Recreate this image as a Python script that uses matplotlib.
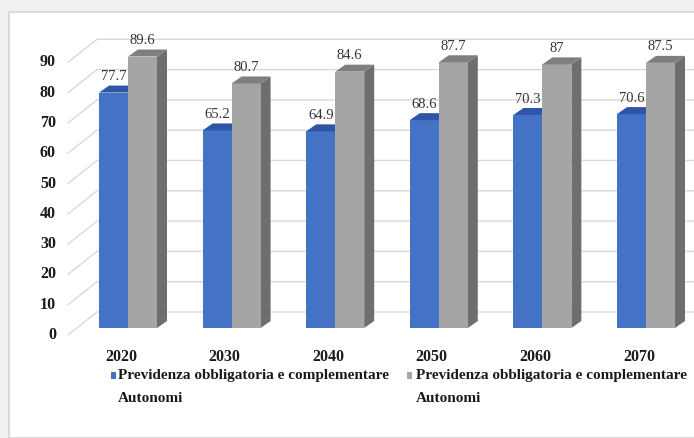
import numpy as np
import matplotlib.pyplot as plt
from matplotlib.patches import Polygon, Rectangle

# data
years = ["2020", "2030", "2040", "2050", "2060", "2070"]
obbl_compl = [77.7, 65.2, 64.9, 68.6, 70.3, 70.6]
autonomi = [89.6, 80.7, 84.6, 87.7, 87.0, 87.5]
labels_obbl = ["77.7", "65.2", "64.9", "68.6", "70.3", "70.6"]
labels_auto = ["89.6", "80.7", "84.6", "87.7", "87", "87.5"]
y_ticks = [0, 10, 20, 30, 40, 50, 60, 70, 80, 90]
legend_labels = ["Previdenza obbligatoria e complementare\nAutonomi",
                 "Previdenza obbligatoria e complementare\nAutonomi"]

plt.rcParams['font.family'] = ['Liberation Serif', 'DejaVu Serif']

W, H = 694, 438
fig = plt.figure(figsize=(W / 100, H / 100), dpi=100)
fig.patch.set_facecolor('#f0f0f0')

# white panel (clipped at right and bottom)
fig.patches.append(Rectangle((9 / W, 0), 1, 1 - 12 / H, transform=fig.transFigure,
                             facecolor='white', edgecolor='#d4d4d4', lw=1.2, zorder=-1))

# axes placed in pixel terms
L, R, T, B = 55, 694, 20, 345
ax = fig.add_axes([L / W, (H - B) / H, (R - L) / W, (B - T) / H])
ax.set_facecolor('none')
ax.axis('off')

px_x = 103.6   # px per category
px_y = 3.03    # px per unit
x0_px, y0_px = 128, 328
ax.set_xlim((L - x0_px) / px_x, (R - x0_px) / px_x)
ax.set_ylim((y0_px - B) / px_y, (y0_px - T) / px_y)

x = np.arange(len(years))
bw = 29 / px_x
ddx, ddy = 10 / px_x, 7 / px_y          # bar depth
wall_dy = 16 / px_y                     # back wall shift
front_dy = -7 / px_y                    # side-wall front edge shift
wall_x0, wall_x1 = (68 - x0_px) / px_x, (97 - x0_px) / px_x
xmax = (R - x0_px) / px_x

# gridlines on side and back walls
for v in y_ticks:
    ax.plot([wall_x0, wall_x1, xmax], [v + front_dy, v + wall_dy, v + wall_dy],
            color='#d9d9d9', lw=1.0, zorder=1)
    ax.text((56 - x0_px) / px_x, v + front_dy, str(v), ha='right', va='center',
            fontsize=11.5, fontweight='bold', color='#1a1a1a')

blue_front, blue_top, blue_side = '#4472c4', '#2f56a6', '#2a4d94'
gray_front, gray_top, gray_side = '#a5a5a5', '#7f7f7f', '#6e6e6e'


def bar3d(x_left, h, front, top, side):
    ax.bar(x_left, h, width=bw, align='edge', color=front, zorder=3, lw=0)
    ax.add_patch(Polygon([(x_left, h), (x_left + ddx, h + ddy), (x_left + bw + ddx, h + ddy),
                          (x_left + bw, h)], closed=True, facecolor=top, lw=0, zorder=3))
    ax.add_patch(Polygon([(x_left + bw, 0), (x_left + bw + ddx, ddy), (x_left + bw + ddx, h + ddy),
                          (x_left + bw, h)], closed=True, facecolor=side, lw=0, zorder=2.5))


for i in range(len(years)):
    bar3d(x[i] - bw, obbl_compl[i], blue_front, blue_top, blue_side)
    bar3d(x[i], autonomi[i], gray_front, gray_top, gray_side)
    ax.text(x[i] - bw / 2, obbl_compl[i] + ddy + 0.8, labels_obbl[i],
            ha='center', va='bottom', fontsize=10.5, color='#333333', zorder=5)
    ax.text(x[i] + bw / 2, autonomi[i] + ddy + 0.8, labels_auto[i],
            ha='center', va='bottom', fontsize=10.5, color='#333333', zorder=5)
    ax.text(x[i] - 7 / px_x, (y0_px - 357) / px_y, years[i], ha='center', va='center',
            fontsize=11.5, fontweight='bold', color='#1a1a1a')

# legend drawn by hand so that marker sits on the first line
for (sq_x, tx_x), lab, col in zip([(111, 118), (407, 416)], legend_labels, [blue_front, gray_front]):
    fig.patches.append(Rectangle((sq_x / W, (H - 379) / H), 5 / W, 7 / H,
                                 transform=fig.transFigure, facecolor=col, lw=0))
    fig.text(tx_x / W, (H - 369) / H, lab, ha='left', va='top', fontsize=11,
             fontweight='bold', color='#1a1a1a', linespacing=1.95)

fig.savefig('out.png', dpi=100, facecolor=fig.get_facecolor())
